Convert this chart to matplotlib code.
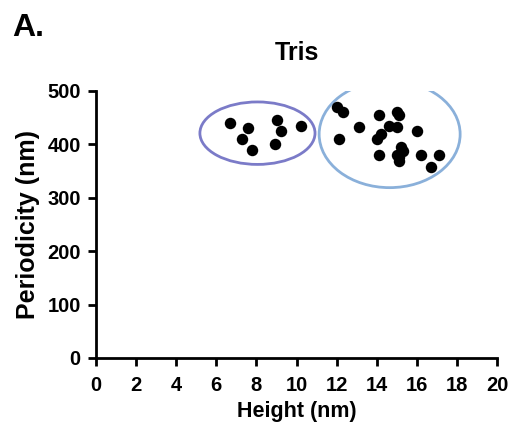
import matplotlib
matplotlib.use('Agg')
import matplotlib.pyplot as plt
from matplotlib.patches import Ellipse

# point values
height_small = [6.7, 7.6, 7.3, 7.8, 9.0, 9.2, 8.9, 10.2]
period_small = [440, 430, 410, 390, 445, 425, 400, 435]

height_large = [12.0, 12.3, 12.1, 13.1, 14.1, 14.0, 14.2, 14.1, 14.6, 15.0, 15.0, 15.1,
                15.2, 15.3, 15.0, 15.1, 15.1, 16.0, 16.2, 17.1, 16.7]
period_large = [470, 460, 410, 433, 455, 410, 420, 380, 435, 432, 460, 455,
                395, 388, 380, 368, 376, 425, 380, 380, 358]

x_ticks = list(range(0, 21, 2))
y_ticks = [0, 100, 200, 300, 400, 500]

plt.rcParams['font.family'] = ['Liberation Sans', 'DejaVu Sans']
plt.rcParams['font.weight'] = 'bold'

fig = plt.figure(figsize=(5.12, 4.24), dpi=100)
ax = fig.add_axes([0.1875, 0.1557, 0.7835, 0.6297])

ax.scatter(height_small + height_large, period_small + period_large,
           s=68, color='black', zorder=3, linewidths=0)

# cluster outlines
ax.add_patch(Ellipse((8.05, 421), 5.74, 117, fill=False, edgecolor='#7b7bc8', linewidth=2))
ax.add_patch(Ellipse((14.64, 419), 7.03, 200, fill=False, edgecolor='#8ab0da', linewidth=2))

ax.set_xlim(0, 20)
ax.set_ylim(0, 500)
ax.set_xticks(x_ticks)
ax.set_yticks(y_ticks)

for side in ['top', 'right']:
    ax.spines[side].set_visible(False)
for side in ['left', 'bottom']:
    ax.spines[side].set_linewidth(2)
ax.tick_params(width=2, length=6, labelsize=14.5)
ax.tick_params(axis='x', pad=7)
ax.tick_params(axis='y', pad=5)
for lbl in ax.get_xticklabels() + ax.get_yticklabels():
    lbl.set_fontweight('bold')

ax.set_xlabel('Height (nm)', fontsize=15.5, fontweight='bold', labelpad=4)
ax.set_ylabel('Periodicity (nm)', fontsize=18, fontweight='bold', labelpad=5)
ax.set_title('Tris', fontsize=18, fontweight='bold', pad=22)

fig.text(0.023, 0.935, 'A.', fontsize=23, fontweight='bold', ha='left', va='center')

fig.savefig('out.png', dpi=100, facecolor='white')
